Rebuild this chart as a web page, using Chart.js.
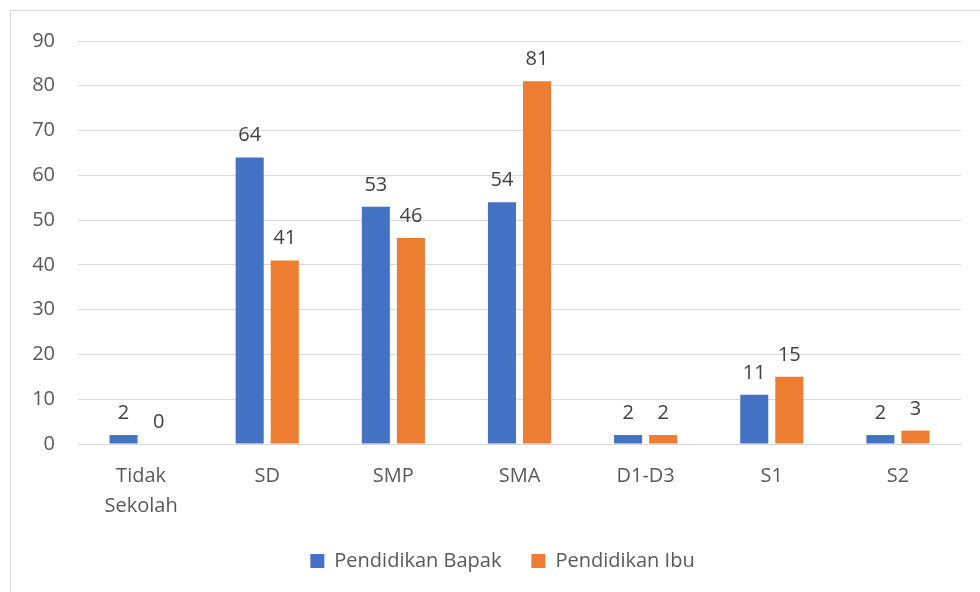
<!DOCTYPE html>
<html>
<head>
<meta charset="utf-8">
<script src="https://cdn.jsdelivr.net/npm/chart.js@4.4.1/dist/chart.umd.min.js"></script>
<style>
  html, body { margin: 0; padding: 0; background: #fff; }
  #wrap { position: relative; width: 980px; height: 592px; }
  #frame { position: absolute; left: 10px; top: 10px; width: 990px; height: 600px; border: 1px solid #d9d9d9; box-sizing: border-box; }
  canvas { position: absolute; left: 0; top: 0; }
</style>
</head>
<body>
<div id="wrap">
  <div id="frame"></div>
  <canvas id="chart" width="980" height="592"></canvas>
</div>
<script>
const categories = [['Tidak', 'Sekolah'], 'SD', 'SMP', 'SMA', 'D1-D3', 'S1', 'S2'];
const bapak = [2, 64, 53, 54, 2, 11, 2];
const ibu = [0, 41, 46, 81, 2, 15, 3];
const seriesNames = ['Pendidikan Bapak', 'Pendidikan Ibu'];
const yTicks = { min: 0, max: 90, step: 10 };

const FONT = "'Open Sans', 'Noto Sans', sans-serif";

// draw value labels above each bar
const barLabels = {
  id: 'barLabels',
  afterDatasetsDraw(chart) {
    const ctx = chart.ctx;
    ctx.save();
    ctx.font = '20px ' + FONT;
    ctx.fillStyle = '#404040';
    ctx.textAlign = 'center';
    ctx.textBaseline = 'alphabetic';
    chart.data.datasets.forEach((ds, i) => {
      chart.getDatasetMeta(i).data.forEach((bar, j) => {
        ctx.fillText(ds.data[j], bar.x, bar.y - 16);
      });
    });
    ctx.restore();
  }
};

// nudge the legend a bit to the right, like the original
const legendShift = {
  id: 'legendShift',
  afterLayout(chart) {
    chart.legend.left += 12;
    chart.legend.right += 12;
  }
};

new Chart(document.getElementById('chart'), {
  type: 'bar',
  data: {
    labels: categories,
    datasets: [
      { label: seriesNames[0], data: bapak, backgroundColor: '#4472c4' },
      { label: seriesNames[1], data: ibu, backgroundColor: '#ed7d31' }
    ]
  },
  options: {
    responsive: false,
    animation: false,
    categoryPercentage: 0.556,
    barPercentage: 0.8,
    layout: { padding: { left: 20, right: 19, top: 41, bottom: 11 } },
    plugins: {
      tooltip: { enabled: false },
      legend: {
        position: 'bottom',
        labels: {
          font: { size: 20, family: FONT },
          color: '#595959',
          boxWidth: 14,
          boxHeight: 14,
          padding: 10,
          generateLabels(chart) {
            const items = Chart.defaults.plugins.legend.labels.generateLabels(chart);
            items[0].text += '\u2003';
            return items;
          }
        }
      }
    },
    scales: {
      x: {
        afterFit(scale) { scale.height += 3; },
        grid: { display: false, drawTicks: false },
        border: { color: '#d9d9d9' },
        ticks: { font: { size: 20, family: FONT, lineHeight: 1.5 }, color: '#595959', padding: 17, maxRotation: 0 }
      },
      y: {
        min: yTicks.min,
        max: yTicks.max,
        afterFit(scale) { scale.width = 58; },
        grid: { color: '#d9d9d9', drawTicks: false },
        border: { display: false },
        ticks: { stepSize: yTicks.step, font: { size: 20, family: FONT }, color: '#595959', padding: 23 }
      }
    }
  },
  plugins: [barLabels, legendShift]
});
</script>
</body>
</html>
